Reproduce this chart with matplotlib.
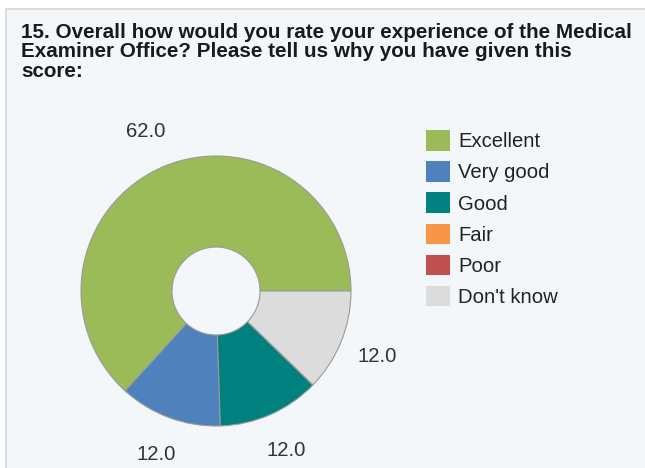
# donut chart of survey question 15 ratings

import matplotlib.pyplot as plt
from matplotlib.patches import Patch, Rectangle

categories = ['Excellent', 'Very good', 'Good', 'Fair', 'Poor', "Don't know"]
values = [62.0, 12.0, 12.0, 0.0, 0.0, 12.0]
colours = ['#9BBB59', '#4F81BD', '#00807F', '#F79646', '#C0504D', '#DCDCDC']
title = ('15. Overall how would you rate your experience of the Medical\n'
         'Examiner Office? Please tell us why you have given this\n'
         'score:')

plt.rcParams['font.family'] = ['Liberation Sans', 'DejaVu Sans']

W, H = 645, 468
panel = '#F3F7FA'
fig = plt.figure(figsize=(W / 100, H / 100), dpi=100, facecolor=panel)

ax = fig.add_axes([0, 0, 1, 1])
ax.set_xlim(0, W)
ax.set_ylim(0, H)
ax.set_aspect('equal')
ax.axis('off')

# white margin above and to the left of the panel, grey border line
ax.add_patch(Rectangle((0, H - 8.5), W, 8.5, facecolor='white', edgecolor='none'))
ax.add_patch(Rectangle((0, 0), 5.5, H, facecolor='white', edgecolor='none'))
ax.plot([5.5, 5.5, W], [0, H - 8.5, H - 8.5], color='#D8DADC', linewidth=1.4,
        solid_joinstyle='miter')

ax.text(21, H - 23, title, fontsize=14.9, fontweight='bold', color='#1a1a1a',
        va='top', ha='left', linespacing=1.03)

labels = ['%.1f' % v if v > 0 else '' for v in values]
wedges, texts = ax.pie(values, labels=labels, colors=colours, startangle=0,
                       counterclock=True, center=(216, H - 291), radius=135,
                       labeldistance=1.29,
                       wedgeprops=dict(width=135 - 44, edgecolor='#9a9a9a',
                                       linewidth=0.8),
                       textprops=dict(fontsize=14.6, color='#333333'))
for t in texts:
    t.set_ha('center')
    t.set_va('center')

ax.set_xlim(0, W)
ax.set_ylim(0, H)
ax.axis('off')

handles = [Patch(facecolor=c, edgecolor='none') for c in colours]
ax.legend(handles, categories, loc='upper left', bbox_to_anchor=(418 / W, 1 - 122 / H),
          frameon=False, fontsize=14.6, handlelength=1.17, handleheight=1.17,
          handletextpad=0.4, labelspacing=0.5, borderaxespad=0,
          labelcolor='#222222')

fig.savefig('out.png', dpi=100, facecolor=panel)
